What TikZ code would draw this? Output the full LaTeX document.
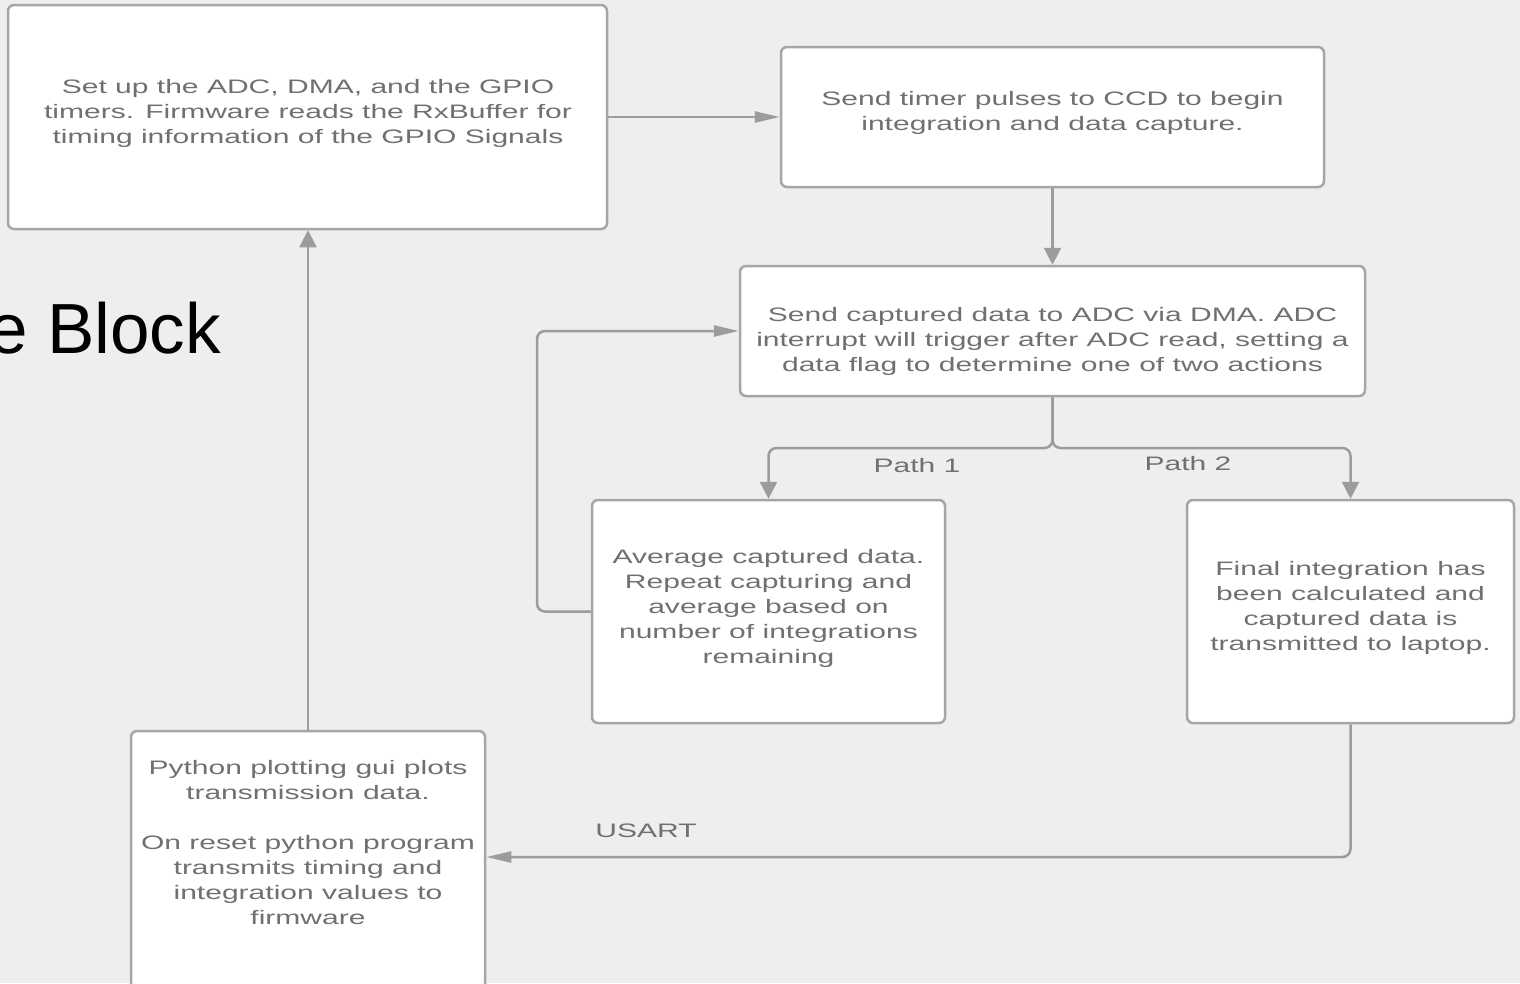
\documentclass[tikz,border=0pt]{standalone}
\usepackage{fontspec}
\setmainfont{Liberation Sans}
\newfontfamily\boxfont{Liberation Sans}[FakeStretch=1.54]
\newfontfamily\headfont{Liberation Sans}
\usetikzlibrary{arrows.meta}
\definecolor{bg}{HTML}{EEEEEE}
\definecolor{edge}{HTML}{A6A6A6}
\definecolor{wire}{HTML}{9C9C9C}
\definecolor{ink}{HTML}{707070}
\tikzset{
  box/.style={draw=edge, line width=2.5pt, fill=white, rounded corners=6pt, inner sep=0pt},
  txt/.style={align=center, text=ink, inner sep=0pt,
    font=\boxfont\fontsize{19.5pt}{25pt}\selectfont},
  lbl/.style={text=ink, inner sep=0pt, font=\boxfont\fontsize{19.5pt}{25pt}\selectfont},
  wireln/.style={draw=wire, line width=2.5pt},
  harrow/.style={wireln, -{Triangle[length=25pt,width=11pt]}},
  varrow/.style={wireln, -{Triangle[length=17pt,width=17pt]}},
}
\begin{document}
\begin{tikzpicture}[x=1pt, y=-1pt]
\useasboundingbox (0,0) rectangle (1520,983);
\fill[bg] (0,0) rectangle (1520,983);
\clip (0,0) rectangle (1520,983);

% heading fragment on the left
\node[anchor=base west, inner sep=0pt, font=\headfont\fontsize{71pt}{80pt}\selectfont] (head) at (-12,353) {e Block};

% boxes
\node[box, minimum width=599pt, minimum height=224pt] (b1) at (307.5,117) {};
\node[box, minimum width=543pt, minimum height=140pt] (b2) at (1052.5,117) {};
\node[box, minimum width=625pt, minimum height=130pt] (b3) at (1052.5,331) {};
\node[box, minimum width=353pt, minimum height=223pt] (b4) at (768.5,611.5) {};
\node[box, minimum width=327pt, minimum height=223pt] (b5) at (1350.5,611.5) {};
\node[box, minimum width=354pt, minimum height=262pt] (b6) at (308,862) {};

% box texts
\node[txt] (t1) at (308,113) {Set up the ADC, DMA, and the GPIO\\timers. Firmware reads the RxBuffer for\\timing information of the GPIO Signals};
\node[txt] (t2) at (1052.5,112.5) {Send timer pulses to CCD to begin\\integration and data capture.};
\node[txt] (t3) at (1052.5,341) {Send captured data to ADC via DMA. ADC\\interrupt will trigger after ADC read, setting a\\data flag to determine one of two actions};
\node[txt] (t4) at (768.5,608) {Average captured data.\\Repeat capturing and\\average based on\\number of integrations\\remaining};
\node[txt] (t5) at (1350.5,608) {Final integration has\\been calculated and\\captured data is\\transmitted to laptop.};
\node[txt] (t6) at (308,842.5) {Python plotting gui plots\\transmission data.\\[25pt]On reset python program\\transmits timing and\\integration values to\\firmware};

% connector labels
\node[lbl] (p1) at (917,466) {Path 1};
\node[lbl] (p2) at (1188,464) {Path 2};
\node[lbl] (us) at (646,831) {USART};

% connectors
\coordinate (split) at (1052.5,448);
\coordinate (loopx) at (537,0);
\coordinate (usy) at (0,857);

\draw[harrow] (b1.east) -- (b2.west);
\draw[varrow] (b2.south) -- (b3.north);
\draw[varrow, rounded corners=8pt] (b3.south) -- (split) -| (b4.north);
\draw[varrow, rounded corners=8pt] (b3.south) -- (split) -| (b5.north);
\draw[harrow, rounded corners=8pt] (b4.west) -| (loopx |- b3.west) -- (b3.west);
\draw[harrow, rounded corners=8pt] (b5.south) |- (b6.east |- usy);
\draw[varrow] (b6.north) -- (b6.north |- b1.south);
\end{tikzpicture}
\end{document}
